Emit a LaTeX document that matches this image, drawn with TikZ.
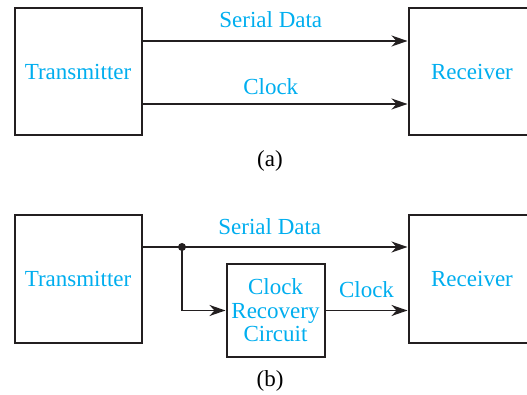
\documentclass[tikz,border=0pt]{standalone}
\usepackage{fontspec}
\setmainfont{Liberation Serif}[Ligatures=TeX]
\usetikzlibrary{positioning}
\usetikzlibrary{arrows.meta}
\definecolor{figCian}{RGB}{0,174,239}
\definecolor{figLinea}{RGB}{35,31,32}
\newcommand{\figletra}{\rmfamily\fontsize{23}{23.5}\selectfont}
\tikzset{
  caja/.style={
    rectangle, draw=figLinea, line width=2pt, fill=white,
    minimum width=127pt, minimum height=127pt, inner sep=0pt,
    align=center, text=figCian, font=\figletra
  },
  cajita/.style={
    rectangle, draw=figLinea, line width=2pt, fill=white,
    minimum width=98pt, minimum height=92pt, inner sep=0pt,
    align=center, text=figCian, font=\figletra
  },
  etiqueta/.style={text=figCian, inner sep=2pt, font=\figletra},
  pie/.style={text=black, inner sep=0pt, font=\figletra},
  flecha/.style={-{Stealth[length=16pt, width=11pt, inset=5pt]}, line width=1.4pt, draw=figLinea}
}
\begin{document}
\begin{tikzpicture}[x=1pt, y=-1pt]
  \useasboundingbox (0,0) rectangle (527,395);
  \clip (0,0) rectangle (527,395);

  % (a)
  \node[caja] (tx1) at (78,72) {Transmitter};
  \node[caja] (rx1) at (472,72) {Receiver};
  \coordinate (dat1) at (142,41);
  \coordinate (clk1) at (142,104);
  \draw[flecha] (dat1) -- node[etiqueta, above=11pt, xshift=-4pt] {Serial Data} (rx1.west |- dat1);
  \draw[flecha] (clk1) -- node[etiqueta, above=7pt, xshift=-4pt] {Clock} (rx1.west |- clk1);
  \node[pie] (capa) at (270,161) {(a)};

  % (b)
  \node[caja] (tx2) at (78,279) {Transmitter};
  \node[caja] (rx2) at (472,279) {Receiver};
  \node[cajita] (crc) at (275.5,310.5) {Clock\\Recovery\\Circuit};
  \coordinate (dat2) at (142,247);
  \coordinate (ramal) at (182,247);
  \draw[flecha] (dat2) -- node[etiqueta, above=10pt, xshift=-5pt] {Serial Data} (rx2.west |- dat2);
  \fill[figLinea] (ramal) circle (4pt);
  \draw[flecha] (ramal) |- (crc.west);
  \draw[flecha] (crc.east) -- node[etiqueta, above=10pt] {Clock} (rx2.west |- crc.east);
  \node[pie] (capb) at (270,381) {(b)};
\end{tikzpicture}
\end{document}
